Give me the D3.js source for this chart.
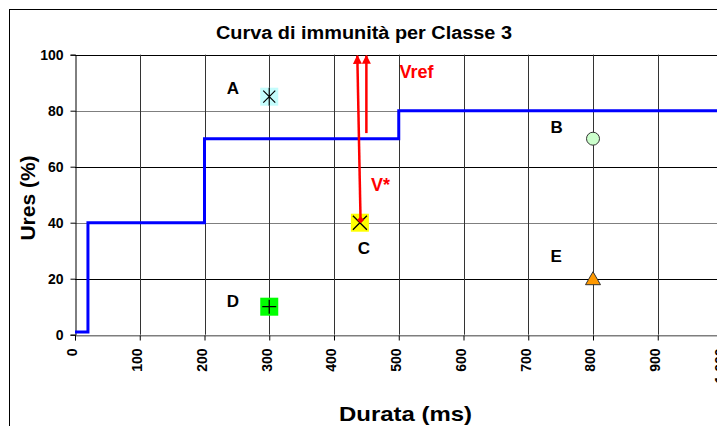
<!DOCTYPE html>
<html>
<head>
<meta charset="utf-8">
<script src="https://cdn.jsdelivr.net/npm/d3@7"></script>
<style>
  body { margin: 0; background: #fff; }
  text { font-family: "Liberation Sans", Arial, sans-serif; font-weight: bold; }
</style>
</head>
<body>
<div id="chart"></div>
<script>
// data
const xTicks = [0, 100, 200, 300, 400, 500, 600, 700, 800, 900, 1000];
const yTicks = [0, 20, 40, 60, 80, 100];
const curveX = [0, 20, 20, 200, 200, 500, 500, 1000];
const curveY = [1, 1, 40, 40, 70, 70, 80, 80];
const pointNames = ["A", "B", "C", "D", "E"];
const pointX = [300, 800, 440, 300, 800];
const pointY = [85, 70, 40, 10, 20];
const labelX = [244, 744, 446, 244, 743];
const labelY = [88, 74, 31, 12, 28];
// arrows: Vref (long) and V* (short)
const arrowFrom = [[441, 41], [450, 72]];
const arrowTo = [[436, 100], [450, 100]];
const arrowText = ["Vref", "V*"];
const arrowTextX = [501, 457];
const arrowTextY = [94, 53.5];

// config
const width = 717;
const height = 426;

const x = d3.scaleLinear().domain([0, 1000]).range([75, 722.5]);
const y = d3.scaleLinear().domain([0, 100]).range([334.7, 54.7]);

const svg = d3.select("#chart").append("svg")
  .attr("width", width)
  .attr("height", height);

// outer frame
svg.append("rect")
  .attr("x", 9.5).attr("y", 9.5)
  .attr("width", 760).attr("height", 500)
  .attr("fill", "white")
  .attr("stroke", "#000");

// title
svg.append("text")
  .attr("x", 216).attr("y", 38.5)
  .attr("textLength", 296)
  .attr("lengthAdjust", "spacingAndGlyphs")
  .style("font-size", "18px")
  .text("Curva di immunità per Classe 3");

// grid
const grid = svg.append("g");
grid.selectAll("line.h")
  .data(yTicks)
  .enter().append("line")
  .attr("x1", x(0)).attr("x2", width)
  .attr("y1", d => Math.round(y(d)) + 0.5)
  .attr("y2", d => Math.round(y(d)) + 0.5)
  .attr("stroke", (d, i) => i % 2 === 0 ? "#7f7f7f" : "#000")
  .attr("stroke-width", 1);
grid.selectAll("line.v")
  .data(xTicks.slice(1))
  .enter().append("line")
  .attr("y1", y(0)).attr("y2", y(100))
  .attr("x1", d => Math.round(x(d)) + 0.5)
  .attr("x2", d => Math.round(x(d)) + 0.5)
  .attr("stroke", "#333")
  .attr("stroke-width", 1);

// axes
const xAxis = svg.append("g")
  .attr("transform", `translate(0,${Math.round(y(0)) + 0.5})`)
  .call(d3.axisBottom(x).tickValues(xTicks).tickSize(5).tickPadding(6));
xAxis.select(".domain").attr("stroke", "#7f7f7f");
xAxis.selectAll("text")
  .attr("transform", "rotate(-90)")
  .attr("text-anchor", "end")
  .attr("x", -13).attr("y", -3).attr("dy", "0.35em")
  .style("font-size", "14px")
  .style("font-weight", "bold")
  .attr("fill", "#000");

const yAxis = svg.append("g")
  .attr("transform", `translate(${Math.round(x(0)) + 0.5},0)`)
  .call(d3.axisLeft(y).tickValues(yTicks).tickSize(5).tickPadding(7));
yAxis.select(".domain").attr("stroke", "#000");
yAxis.selectAll("text")
  .style("font-size", "14px")
  .style("font-weight", "bold")
  .attr("fill", "#000");

// axis titles
svg.append("text")
  .attr("x", 339).attr("y", 421)
  .attr("textLength", 133)
  .attr("lengthAdjust", "spacingAndGlyphs")
  .style("font-size", "21px")
  .text("Durata (ms)");
svg.append("text")
  .attr("transform", "translate(35,198) rotate(-90)")
  .attr("text-anchor", "middle")
  .style("font-size", "21px")
  .text("Ures (%)");

// step curve
const curve = curveX.map((d, i) => [d, curveY[i]]);
svg.append("path")
  .datum(curve)
  .attr("fill", "none")
  .attr("stroke", "#0000ff")
  .attr("stroke-width", 3)
  .attr("d", d3.line().x(d => x(d[0])).y(d => y(d[1])));

// markers
const marks = svg.append("g");
pointNames.forEach((name, i) => {
  const cx = x(pointX[i]), cy = y(pointY[i]);
  const g = marks.append("g").attr("transform", `translate(${cx},${cy})`);
  if (name === "A") {
    g.append("rect").attr("x", -9).attr("y", -9).attr("width", 18).attr("height", 18).attr("fill", "#c4fcfc");
    g.append("path").attr("d", "M-6,-6L6,6M-6,6L6,-6M0,-9L0,9").attr("stroke", "#000").attr("stroke-width", 1.2);
  } else if (name === "B") {
    g.append("circle").attr("r", 6.5).attr("fill", "#ccffcc").attr("stroke", "#333").attr("stroke-width", 1);
  } else if (name === "C") {
    g.append("rect").attr("x", -9).attr("y", -9).attr("width", 18).attr("height", 18).attr("fill", "#ffff00");
    g.append("path").attr("d", "M-7,-7L7,7M-7,7L7,-7").attr("stroke", "#000").attr("stroke-width", 1.3);
  } else if (name === "D") {
    g.append("rect").attr("x", -9).attr("y", -9).attr("width", 18).attr("height", 18).attr("fill", "#00ff00");
    g.append("path").attr("d", "M-7,0L7,0M0,-7L0,7").attr("stroke", "#000").attr("stroke-width", 1.3);
  } else {
    g.append("path").attr("d", "M0,-7L7.5,6L-7.5,6Z").attr("fill", "#ff9900").attr("stroke", "#333").attr("stroke-width", 1);
  }
  svg.append("text")
    .attr("x", x(labelX[i])).attr("y", y(labelY[i]))
    .attr("text-anchor", "middle")
    .attr("dy", "0.35em")
    .style("font-size", "17px")
    .text(name);
});

// arrows
const defs = svg.append("defs");
defs.append("marker")
  .attr("id", "head")
  .attr("viewBox", "0 0 10 10")
  .attr("refX", 9).attr("refY", 5)
  .attr("markerWidth", 9).attr("markerHeight", 13)
  .attr("markerUnits", "userSpaceOnUse")
  .attr("orient", "auto")
  .append("path").attr("d", "M0,0L10,5L0,10Z").attr("fill", "#ff0000");
defs.append("marker")
  .attr("id", "diamond")
  .attr("viewBox", "0 0 10 10")
  .attr("refX", 5).attr("refY", 5)
  .attr("markerWidth", 7).attr("markerHeight", 7)
  .attr("markerUnits", "userSpaceOnUse")
  .attr("orient", "auto")
  .append("path").attr("d", "M0,5L5,0L10,5L5,10Z").attr("fill", "#ff0000");

svg.selectAll("line.arrow")
  .data(arrowFrom)
  .enter().append("line")
  .attr("class", "arrow")
  .attr("x1", d => x(d[0])).attr("y1", d => y(d[1]))
  .attr("x2", (d, i) => x(arrowTo[i][0])).attr("y2", (d, i) => y(arrowTo[i][1]) + 1)
  .attr("stroke", "#ff0000")
  .attr("stroke-width", 2.5)
  .attr("marker-end", "url(#head)")
  .attr("marker-start", (d, i) => i === 0 ? "url(#diamond)" : null);

// arrow labels
svg.selectAll("text.arrowlabel")
  .data(arrowText)
  .enter().append("text")
  .attr("class", "arrowlabel")
  .attr("x", (d, i) => x(arrowTextX[i]))
  .attr("y", (d, i) => y(arrowTextY[i]))
  .attr("dy", "0.35em")
  .attr("fill", "#ff0000")
  .style("font-size", "18px")
  .text(d => d);
</script>
</body>
</html>
